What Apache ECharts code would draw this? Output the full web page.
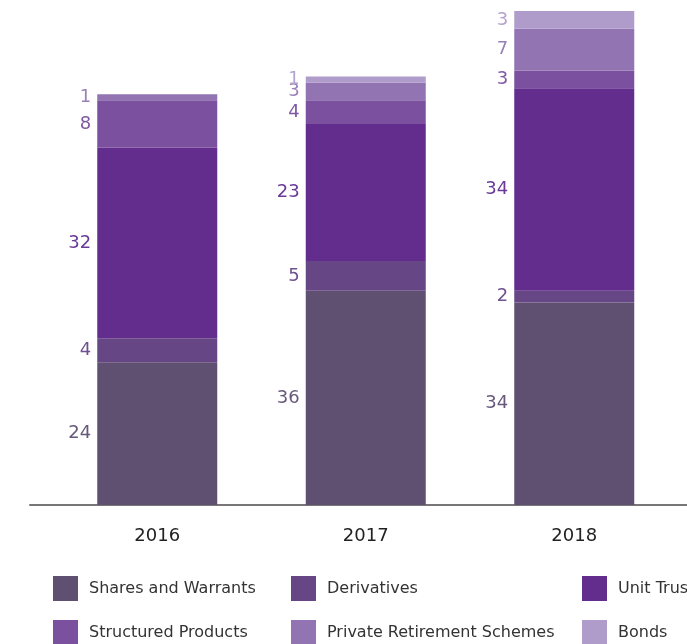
<!DOCTYPE html>
<html><head><meta charset="utf-8">
<script src="https://cdn.jsdelivr.net/npm/echarts@6/dist/echarts.min.js"></script>
<style>html,body{margin:0;padding:0;background:#fff}#c{width:687px;height:644px}</style>
</head><body><div id="c"></div>
<script>
const categories = ['2016', '2017', '2018'];
const seriesNames = ['Shares and Warrants', 'Derivatives', 'Unit Trust', 'Structured Products', 'Private Retirement Schemes', 'Bonds'];
const sharesAndWarrants = [24, 36, 34];
const derivatives = [4, 5, 2];
const unitTrust = [32, 23, 34];
const structuredProducts = [8, 4, 3];
const privateRetirement = [1, 3, 7];
const bonds = [null, 1, 3];
const colors = ['#5f5071', '#664684', '#632d8d', '#7b519f', '#9274b2', '#b09ccb'];
const labelColors = ['#66597a', '#6e5190', '#6a3a96', '#7f58a3', '#9a80b9', '#b5a3cf'];

const allData = [sharesAndWarrants, derivatives, unitTrust, structuredProducts, privateRetirement, bonds];
const FONT = 'DejaVu Sans';

const chart = echarts.init(document.getElementById('c'), null, {renderer: 'canvas'});
const legendPos = [
  {left: 53, top: 576}, {left: 291, top: 576}, {left: 582, top: 576},
  {left: 53, top: 620}, {left: 291, top: 620}, {left: 582, top: 620}
];
chart.setOption({
  animation: false,
  color: colors,
  grid: [
    {left: 53, width: 625.5, top: 5, height: 500},
    {left: 30, right: 0, top: 5, height: 500}
  ],
  legend: seriesNames.map((n, i) => ({
    data: [n], left: legendPos[i].left, top: legendPos[i].top,
    itemWidth: 25, itemHeight: 25, itemGap: 0, icon: 'rect',
    textStyle: {fontFamily: FONT, fontSize: 16, color: '#333', padding: [0, 0, 0, 6]},
    padding: 0, selectedMode: false
  })),
  xAxis: [
    {type: 'category', data: categories, gridIndex: 0,
     axisLine: {show: false}, axisTick: {show: false},
     axisLabel: {fontFamily: FONT, fontSize: 18, color: '#222', margin: 22}},
    {type: 'category', data: [''], gridIndex: 1,
     axisLine: {show: true, lineStyle: {color: '#777', width: 2}}, axisTick: {show: false},
     axisLabel: {show: false}}
  ],
  yAxis: [
    {type: 'value', min: 0, max: 84, gridIndex: 0, show: false, splitLine: {show: false}},
    {type: 'value', min: 0, max: 84, gridIndex: 1, show: false, splitLine: {show: false}}
  ],
  series: seriesNames.map((n, i) => ({
    name: n, type: 'bar', stack: 'total', barWidth: 120,
    xAxisIndex: 0, yAxisIndex: 0, clip: false,
    data: allData[i],
    itemStyle: {color: colors[i]},
    label: {show: true, position: 'left', distance: 6,
            fontFamily: FONT, fontSize: 18, color: labelColors[i]}
  }))
});
</script></body></html>
